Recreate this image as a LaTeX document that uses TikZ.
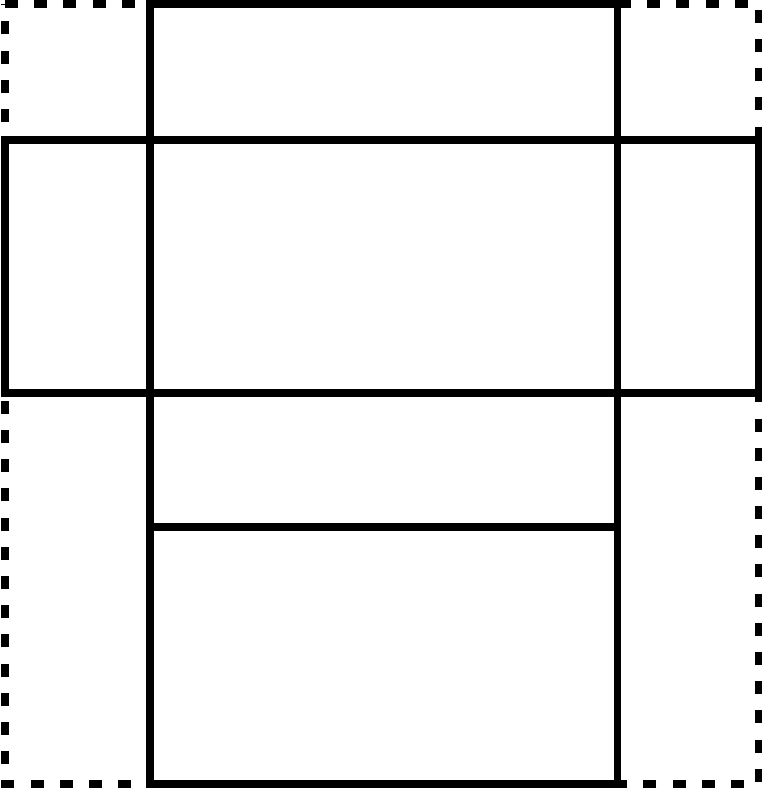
\documentclass[tikz,border=0pt]{standalone}
\begin{document}
\begin{tikzpicture}[x=0.01cm,y=-0.01cm,every path/.style={line width=2pt},
	cutline/.style={dash pattern=on 3.7pt off 4.6pt}]
\useasboundingbox (0,0) rectangle (766,792);
\coordinate (tl) at (5,4);
\coordinate (tr) at (758,4);
\coordinate (br) at (758,784);
\coordinate (bl) at (5,784);
\coordinate (c1) at (150,4);
\coordinate (c3) at (617,784);
\coordinate (b1) at (5,140);
\coordinate (b3) at (758,393);
\coordinate (f1) at (150,527);
\coordinate (f2) at (617,527);
\draw[cutline] (tl) -- (tr) -- (br) -- (bl) -- cycle;
\draw (c1) rectangle (c3);
\draw (b1) rectangle (b3);
\draw (f1) to (f2);
\end{tikzpicture}
\end{document}
